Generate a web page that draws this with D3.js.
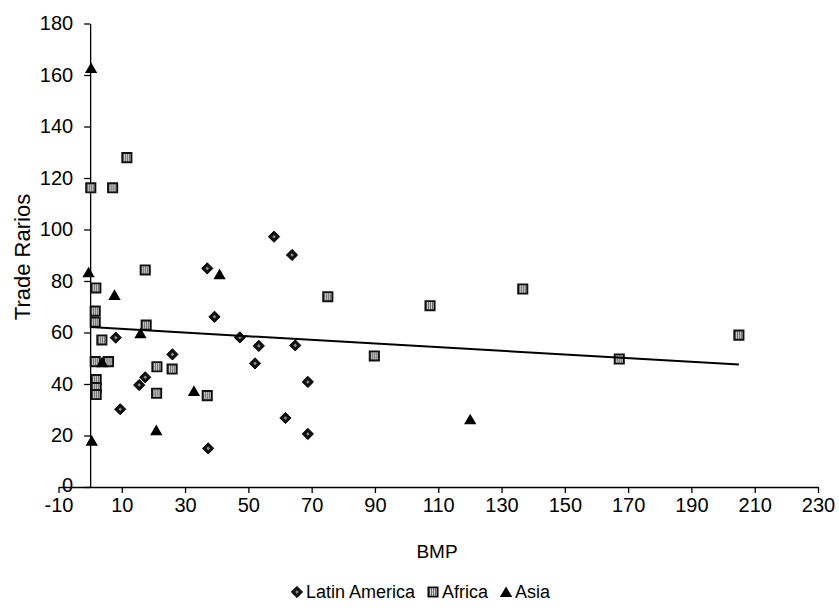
<!DOCTYPE html>
<html>
<head>
<meta charset="utf-8">
<script src="https://cdn.jsdelivr.net/npm/d3@7/dist/d3.min.js"></script>
<style>
  html, body { margin: 0; padding: 0; background: #fff; }
  svg { display: block; font-family: "Liberation Sans", Arial, sans-serif; }
</style>
</head>
<body>
<svg id="chart" width="839" height="610"></svg>
<script>
// BMP (x) vs trade ratios (y), by region
const latinX = [8.1, 9.5, 15.5, 17.4, 26.0, 37.0, 39.3, 37.3, 47.3, 52.1, 53.3, 58.1, 63.8, 64.8, 68.8, 61.7, 68.8];
const latinY = [58.0, 30.2, 39.6, 42.6, 51.5, 84.9, 66.1, 15.0, 58.1, 48.0, 54.8, 97.2, 90.1, 55.0, 40.8, 26.8, 20.6];

const africaX = [0.2, 7.1, 11.6, 1.8, 1.6, 1.6, 3.7, 1.6, 5.8, 1.9, 1.9, 1.9, 17.4, 17.7, 21.1, 25.9, 21.0, 37.0, 75.1, 107.4, 89.8, 136.7, 167.2, 205.0];
const africaY = [116.2, 116.2, 127.9, 77.3, 68.3, 64.0, 57.1, 48.7, 48.7, 41.7, 38.6, 35.9, 84.3, 62.9, 46.7, 45.8, 36.4, 35.5, 73.9, 70.4, 50.9, 76.9, 49.7, 59.0];

const asiaX = [0.3, -0.5, 0.5, 7.7, 3.8, 15.9, 20.9, 32.8, 40.9, 120.1];
const asiaY = [162.7, 83.4, 18.0, 74.6, 48.5, 59.7, 22.1, 37.3, 82.6, 26.3];

// Linear trend line end points
const trendX = [0, 205];
const trendY = [62.1, 47.6];

const xTicks = [-10, 10, 30, 50, 70, 90, 110, 130, 150, 170, 190, 210, 230];
const yTicks = [0, 20, 40, 60, 80, 100, 120, 140, 160, 180];

const seriesNames = ["Latin America", "Africa", "Asia"];

const svg = d3.select("#chart");

const x = d3.scaleLinear().domain([-10, 230]).range([58.5, 818]);
const y = d3.scaleLinear().domain([0, 180]).range([487, 23.5]);

// hatched fill for the Africa squares
const defs = svg.append("defs");
const pat = defs.append("pattern")
  .attr("id", "hatch")
  .attr("patternUnits", "userSpaceOnUse")
  .attr("width", 2).attr("height", 2);
pat.append("rect").attr("width", 2).attr("height", 2).attr("fill", "#cfcfcf");
pat.append("rect").attr("width", 1).attr("height", 2).attr("fill", "#6a6a6a");

// marker shapes
const shapes = {
  diamond: r => `M0,${-r}L${r},0L0,${r}L${-r},0Z`,
  square: r => `M${-r},${-r}H${r}V${r}H${-r}Z`,
  triangle: r => `M0,${-r}L${r * 1.1},${r * 0.9}L${-r * 1.1},${r * 0.9}Z`
};

function drawMarker(g, shape, cx, cy) {
  const tr = `translate(${cx},${cy})`;
  if (shape === "diamond") {
    g.append("path").attr("d", shapes.diamond(5.6)).attr("transform", tr)
      .attr("fill", "#111").attr("stroke", "#000").attr("stroke-width", 1);
    g.append("path").attr("d", shapes.diamond(1.8)).attr("transform", tr)
      .attr("fill", "#8e8e8e");
  } else if (shape === "square") {
    g.append("path").attr("d", shapes.square(4.6)).attr("transform", tr)
      .attr("fill", "url(#hatch)").attr("stroke", "#111").attr("stroke-width", 1.9);
  } else {
    g.append("path").attr("d", shapes.triangle(5.6)).attr("transform", tr)
      .attr("fill", "#000");
  }
}

const tickFont = "'Liberation Sans', Arial, sans-serif";

// axes
const xAxis = d3.axisBottom(x).tickValues(xTicks).tickFormat(d => String(d))
  .tickSize(6).tickSizeOuter(0).tickPadding(5);
const gx = svg.append("g").attr("transform", `translate(0,${y(0)})`).call(xAxis);
gx.select(".domain").attr("stroke", "#000").attr("stroke-width", 1.3);
gx.selectAll(".tick line").attr("stroke", "#000").attr("stroke-width", 1.3);
gx.selectAll(".tick text").attr("font-size", 20).attr("fill", "#000")
  .attr("font-family", tickFont);

const yAxis = d3.axisLeft(y).tickValues(yTicks).tickFormat(d => String(d))
  .tickSize(6).tickSizeOuter(0).tickPadding(11);
const gy = svg.append("g").attr("transform", `translate(${x(0)},0)`).call(yAxis);
gy.select(".domain").attr("stroke", "#000").attr("stroke-width", 1.3);
gy.selectAll(".tick line").attr("stroke", "#000").attr("stroke-width", 1.3);
gy.selectAll(".tick text").attr("font-size", 20).attr("fill", "#000")
  .attr("font-family", tickFont)
  .attr("dy", "0.3em");
// the zero label sits on the x axis line; lift it a touch clear of "-10"
gy.selectAll(".tick text").filter(d => d === 0).attr("dy", "0.2em");

// axis titles
svg.append("text")
  .attr("x", 437).attr("y", 558)
  .attr("text-anchor", "middle").attr("font-size", 19).attr("fill", "#000")
  .text("BMP");
svg.append("text")
  .attr("transform", "translate(30,257) rotate(-90)")
  .attr("text-anchor", "middle").attr("font-size", 22).attr("fill", "#000")
  .text("Trade Rarios");

// points
const gPts = svg.append("g");
latinX.forEach((v, i) => drawMarker(gPts, "diamond", x(v), y(latinY[i])));
africaX.forEach((v, i) => drawMarker(gPts, "square", x(v), y(africaY[i])));
asiaX.forEach((v, i) => drawMarker(gPts, "triangle", x(v), y(asiaY[i])));

// trend line
const line = d3.line().x(d => x(d[0])).y(d => y(d[1]));
svg.append("path")
  .datum(trendX.map((v, i) => [v, trendY[i]]))
  .attr("d", line)
  .attr("fill", "none").attr("stroke", "#000").attr("stroke-width", 2);

// legend
const legend = svg.append("g");
const legendShapes = ["diamond", "square", "triangle"];
let lx = 0;
seriesNames.forEach((name, i) => {
  const g = legend.append("g").attr("transform", `translate(${lx},0)`);
  drawMarker(g, legendShapes[i], 5, -6);
  const t = g.append("text").attr("x", 14).attr("y", 0)
    .attr("font-size", 18).attr("fill", "#000").text(name);
  const w = t.node().getComputedTextLength();
  lx += 14 + w + 13;
});
const totalW = lx - 13;
legend.attr("transform", `translate(${421 - totalW / 2},598)`);
</script>
</body>
</html>
